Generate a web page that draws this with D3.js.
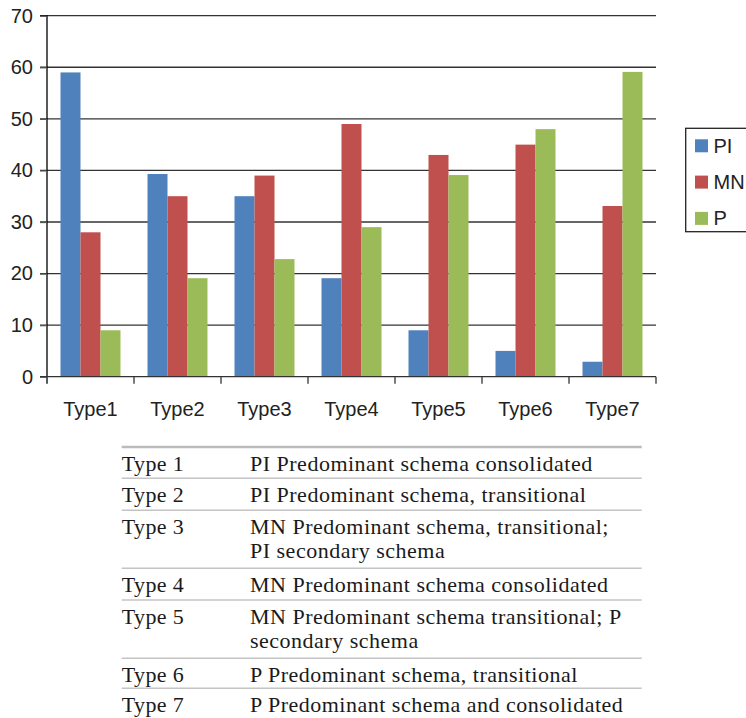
<!DOCTYPE html>
<html>
<head>
<meta charset="utf-8">
<script src="https://cdn.jsdelivr.net/npm/d3@7"></script>
<style>
  body { margin: 0; background: #fff; }
  svg { display: block; }
</style>
</head>
<body>
<svg id="chart" width="746" height="718"></svg>
<script>
// chart data
const categories = ["Type1", "Type2", "Type3", "Type4", "Type5", "Type6", "Type7"];
const series = ["PI", "MN", "P"];
const valuesPI = [59, 39.3, 35, 19.1, 9, 5, 2.9];
const valuesMN = [28, 35, 39, 49, 43, 45, 33.1];
const valuesP = [9, 19.1, 22.8, 29, 39.1, 48, 59.1];
const yTicks = [0, 10, 20, 30, 40, 50, 60, 70];
const colors = ["#4F81BD", "#C0504D", "#9BBB59"];

// table under the chart
const typeNames = ["Type 1", "Type 2", "Type 3", "Type 4", "Type 5", "Type 6", "Type 7"];
const typeDescriptions = [
  ["PI Predominant schema consolidated"],
  ["PI Predominant schema, transitional"],
  ["MN Predominant schema, transitional;", "PI secondary schema"],
  ["MN Predominant schema consolidated"],
  ["MN Predominant schema transitional; P", "secondary schema"],
  ["P Predominant schema, transitional"],
  ["P Predominant schema and consolidated"]
];

const allValues = [valuesPI, valuesMN, valuesP];
const data = categories.map((c, i) => ({
  cat: c,
  vals: series.map((s, j) => ({ key: s, value: allValues[j][i], color: colors[j] }))
}));

const svg = d3.select("#chart");
const sansFont = "'Liberation Sans', Arial, Helvetica, sans-serif";
const serifFont = "'Liberation Serif', 'Times New Roman', serif";

const plot = { left: 47, right: 656, top: 15.7, bottom: 376.7 };

const x0 = d3.scaleBand().domain(categories).range([plot.left, plot.right]);
const x1 = d3.scaleBand().domain(series).range([0, x0.bandwidth()]).paddingOuter(0.675);
const y = d3.scaleLinear().domain([0, 70]).range([plot.bottom, plot.top]);

// gridlines
svg.append("g").selectAll("line")
  .data(yTicks.filter(d => d > 0))
  .enter().append("line")
  .attr("x1", plot.left - 7).attr("x2", plot.right)
  .attr("y1", d => y(d)).attr("y2", d => y(d))
  .attr("stroke", "#333").attr("stroke-width", 1.3);

// bars
svg.append("g").selectAll("g")
  .data(data).enter().append("g")
  .attr("transform", d => `translate(${x0(d.cat)},0)`)
  .selectAll("rect")
  .data(d => d.vals).enter().append("rect")
  .attr("x", d => x1(d.key))
  .attr("width", x1.bandwidth())
  .attr("y", d => y(d.value))
  .attr("height", d => y(0) - y(d.value))
  .attr("fill", d => d.color);

// y axis
const yAxis = svg.append("g")
  .attr("transform", `translate(${plot.left},0)`)
  .call(d3.axisLeft(y).tickValues(yTicks).tickSize(7).tickPadding(7));
yAxis.select(".domain").attr("stroke", "#000").attr("stroke-width", 1.3)
  .attr("d", `M-7,${y(70)}H0V${plot.bottom + 7}`);
yAxis.selectAll(".tick line").attr("stroke", "#555").attr("stroke-width", 1.3);
yAxis.selectAll(".tick text").attr("font-family", sansFont).attr("font-size", 20).attr("fill", "#222");

// x axis with ticks at band edges
const xAxis = svg.append("g")
  .attr("transform", `translate(0,${plot.bottom})`);
xAxis.append("line")
  .attr("x1", plot.left - 7).attr("x2", plot.right)
  .attr("stroke", "#333").attr("stroke-width", 1.3);
xAxis.selectAll("line.edge")
  .data(categories.map(c => x0(c) + x0.bandwidth()))
  .enter().append("line").attr("class", "edge")
  .attr("x1", d => d).attr("x2", d => d).attr("y1", 0).attr("y2", 7)
  .attr("stroke", "#333").attr("stroke-width", 1.3);
xAxis.selectAll("text")
  .data(categories).enter().append("text")
  .attr("x", d => x0(d) + x0.bandwidth() / 2)
  .attr("y", 39.5)
  .attr("text-anchor", "middle")
  .attr("font-family", sansFont).attr("font-size", 20).attr("fill", "#222")
  .text(d => d);

// legend
const legend = svg.append("g").attr("transform", "translate(685.7,128.3)");
legend.append("rect")
  .attr("width", 80).attr("height", 103.4)
  .attr("fill", "#fff").attr("stroke", "#222").attr("stroke-width", 1.3);
const li = legend.selectAll("g.item").data(series).enter().append("g")
  .attr("class", "item")
  .attr("transform", (d, i) => `translate(9.3,${11 + i * 36.3})`);
li.append("rect").attr("width", 13).attr("height", 13).attr("fill", (d, i) => colors[i]);
li.append("text").attr("x", 18.5).attr("y", 13.5)
  .attr("font-family", sansFont).attr("font-size", 20).attr("fill", "#222")
  .text(d => d);

// table
const tableLeft = 121.7, tableRight = 641.7, col2 = 250;
const rowTop = 447;
const rowHeights = [31.3, 32, 58, 31.7, 58.3, 30, 30];
svg.append("line")
  .attr("x1", tableLeft).attr("x2", tableRight)
  .attr("y1", rowTop).attr("y2", rowTop)
  .attr("stroke", "#bbb").attr("stroke-width", 2.5);
let yy = rowTop;
typeNames.forEach((name, i) => {
  const lines = typeDescriptions[i];
  const base = yy + 23.5;
  svg.append("text").attr("x", tableLeft).attr("y", base)
    .attr("font-family", serifFont).attr("font-size", 22).attr("letter-spacing", 0.4).attr("fill", "#1a1a1a")
    .text(name);
  lines.forEach((ln, k) => {
    svg.append("text").attr("x", col2).attr("y", base + k * 24)
      .attr("font-family", serifFont).attr("font-size", 22).attr("letter-spacing", 0.5).attr("fill", "#1a1a1a")
      .text(ln);
  });
  yy += rowHeights[i];
  if (i < typeNames.length - 1) {
    svg.append("line")
      .attr("x1", tableLeft).attr("x2", tableRight)
      .attr("y1", yy).attr("y2", yy)
      .attr("stroke", "#c4c4c4").attr("stroke-width", 1.5);
  }
});
</script>
</body>
</html>
